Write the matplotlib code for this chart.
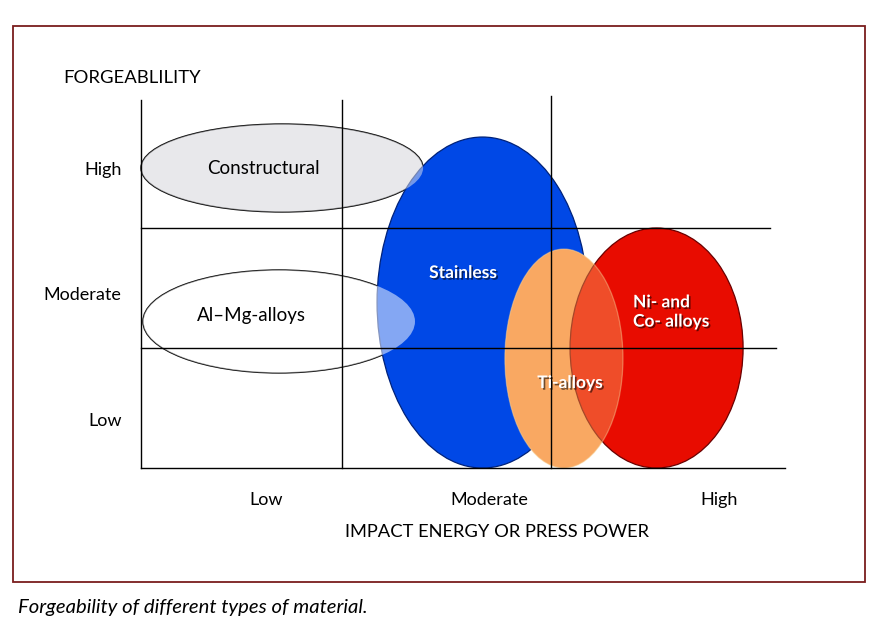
import matplotlib
matplotlib.use("Agg")
import matplotlib.pyplot as plt
from matplotlib.patches import Ellipse, Rectangle
import matplotlib.patheffects as pe

FONT = "Lato"
plt.rcParams["font.family"] = [FONT, "DejaVu Sans"]

# ---------------- data (chart units) ----------------
x_categories = ["Low", "Moderate", "High"]
x_cat_pos = [0.61, 1.70, 2.82]
y_categories = ["High", "Moderate", "Low"]
y_cat_pos = [2.5, 1.45, 0.4]

grid_x = [0.98, 2.0]
grid_x_top = [3.07, 3.1]
grid_y = [1.0, 2.0]
grid_y_right = [3.10, 3.07]

materials = ["Constructural", "Al\u2013Mg-alloys", "Stainless", "Ti-alloys", "Ni- and\nCo- alloys"]
centers_x = [0.688, 0.673, 1.666, 2.063, 2.515]
centers_y = [2.50, 1.221, 1.379, 0.9125, 1.00]
widths = [1.376, 1.327, 1.029, 0.576, 0.844]
heights = [0.733, 0.858, 2.758, 1.825, 2.00]
label_x = [0.595, 0.537, 1.571, 2.093, 2.40]
label_y = [2.50, 1.267, 1.625, 0.708, 1.30]

# ---------------- figure ----------------
W, H = 877, 625
fig = plt.figure(figsize=(W / 100, H / 100), dpi=100)
fig.patch.set_facecolor("white")

# outer frame
fig.patches.append(Rectangle((13 / W, 1 - 582 / H), 852 / W, 556 / H,
                             transform=fig.transFigure, fill=False,
                             edgecolor="#7a1c1c", lw=1.3))

ax = fig.add_axes([141 / W, 1 - 468 / H, 644 / W, 372 / H])
ax.set_xlim(0, 644 / 205)
ax.set_ylim(0, 3.1)
for s in ax.spines.values():
    s.set_visible(False)
ax.set_facecolor("none")

# colours
c_grey = (0.91, 0.91, 0.92)
c_white = (1, 1, 1)
c_blue = "#0048e6"
c_ti = "#f9a862"
c_red = "#e80c00"

def ell(i, **kw):
    return Ellipse((centers_x[i], centers_y[i]), widths[i], heights[i], clip_on=False, **kw)

# light ellipses (under blue, with outlines)
ax.add_patch(ell(0, facecolor=c_grey, edgecolor="black", lw=1.0, zorder=1))
ax.add_patch(ell(1, facecolor=c_white, edgecolor="black", lw=1.0, zorder=1))
# stainless
ax.add_patch(ell(2, facecolor=c_blue, edgecolor="#00227a", lw=0.9, zorder=2))
# translucent overlays of light ellipses
ax.add_patch(ell(0, facecolor=c_grey, edgecolor="none", alpha=0.5, zorder=3))
ax.add_patch(ell(1, facecolor=c_white, edgecolor="none", alpha=0.52, zorder=3))
# Ti opaque
ax.add_patch(ell(3, facecolor=c_ti, edgecolor="none", zorder=4))
# Ni/Co
ax.add_patch(ell(4, facecolor=c_red, edgecolor="#6a0000", lw=0.9, zorder=5))
# Ti translucent overlay
ax.add_patch(ell(3, facecolor=c_ti, edgecolor="#f7d9a0", lw=0.9, alpha=0.42, zorder=6))

# grid / axis lines
lk = dict(color="black", lw=1.0, zorder=10, clip_on=False)
ax.plot([0, 0], [0, 3.07], **lk)
ax.plot([0, 644 / 205], [0, 0], **lk)
for gx, top in zip(grid_x, grid_x_top):
    ax.plot([gx, gx], [0, top], **lk)
for gy, right in zip(grid_y, grid_y_right):
    ax.plot([0, right], [gy, gy], **lk)

# ticks
ax.set_xticks(x_cat_pos)
ax.set_xticklabels(x_categories, fontsize=13)
ax.set_yticks(y_cat_pos)
ax.set_yticklabels(y_categories, fontsize=13)
ax.tick_params(axis="x", length=0, pad=17)
ax.tick_params(axis="y", length=0, pad=14)

# ellipse labels
shadow = [pe.SimplePatchShadow(offset=(1.2, -1.2), shadow_rgbFace="black", alpha=0.55), pe.Normal()]
ax.text(label_x[0], label_y[0], materials[0], ha="center", va="center", fontsize=13.5, zorder=11)
ax.text(label_x[1], label_y[1], materials[1], ha="center", va="center", fontsize=13.5, zorder=11)
ax.text(label_x[2], label_y[2], materials[2], ha="center", va="center", fontsize=12.5,
        color="white", fontweight="bold", path_effects=shadow, zorder=11)
ax.text(label_x[3], label_y[3], materials[3], ha="center", va="center", fontsize=12.5,
        color="white", fontweight="bold", path_effects=shadow, zorder=11)
ax.text(label_x[4], label_y[4], materials[4], ha="left", va="center", fontsize=12.5,
        color="white", fontweight="bold", linespacing=1.25, path_effects=shadow, zorder=11)

# axis titles
fig.text(63 / W, 1 - 78 / H, "FORGEABLILITY", ha="left", va="center", fontsize=13.3)
fig.text(497 / W, 1 - 532 / H, "IMPACT ENERGY OR PRESS POWER", ha="center", va="center", fontsize=13.2)

# caption
fig.text(18 / W, 1 - 608 / H, "Forgeability of different types of material.",
         ha="left", va="center", fontsize=14.6, style="italic")

fig.savefig("out.png", dpi=100)
